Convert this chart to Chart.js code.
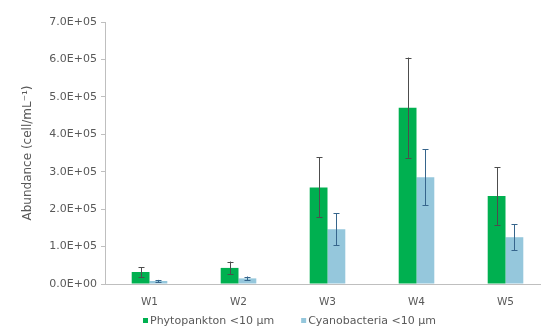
<!DOCTYPE html>
<html>
<head>
<meta charset="utf-8">
<script src="https://cdn.jsdelivr.net/npm/chart.js"></script>
<style>
  html, body { margin: 0; padding: 0; background: #fff; overflow: hidden; }
  #wrap { width: 552px; height: 333px; }
</style>
</head>
<body>
<div id="wrap"><canvas id="abundanceChart"></canvas></div>
<script>
// sites and abundances (cell/mL), mean and standard deviation
const sites = ['W1', 'W2', 'W3', 'W4', 'W5'];
const phytoMean = [32000, 43000, 258000, 471000, 235000];
const phytoErr = [13000, 17000, 80000, 134000, 77000];
const cyanoMean = [8000, 15000, 146000, 285000, 125000];
const cyanoErr = [3000, 5000, 43000, 75000, 35000];
const yTicks = [0, 100000, 200000, 300000, 400000, 500000, 600000, 700000];

const FONT = 'DejaVu Sans, Verdana, sans-serif';
const TEXT = '#595959';

// 7.0E+05 style labels
function sciLabel(v) {
  const [m, e] = Number(v).toExponential(1).split('e');
  const n = parseInt(e, 10);
  return m + 'E' + (n < 0 ? '-' : '+') + String(Math.abs(n)).padStart(2, '0');
}

const errorBars = {
  id: 'errorBars',
  afterDatasetsDraw(chart) {
    const ctx = chart.ctx;
    const y = chart.scales.y;
    chart.data.datasets.forEach((ds, i) => {
      const meta = chart.getDatasetMeta(i);
      ctx.save();
      ctx.strokeStyle = ds.errColor;
      ctx.lineWidth = 1;
      meta.data.forEach((bar, j) => {
        const v = ds.data[j], e = ds.err[j];
        const top = y.getPixelForValue(v + e);
        const bot = y.getPixelForValue(Math.max(0, v - e));
        const x = Math.round(bar.x) + 0.5;
        ctx.beginPath();
        ctx.moveTo(x, top); ctx.lineTo(x, bot);
        ctx.moveTo(x - 3, Math.round(top) + 0.5); ctx.lineTo(x + 3, Math.round(top) + 0.5);
        ctx.moveTo(x - 3, Math.round(bot) + 0.5); ctx.lineTo(x + 3, Math.round(bot) + 0.5);
        ctx.stroke();
      });
      ctx.restore();
    });
  }
};

// legend under the axis labels
const bottomLegend = {
  id: 'bottomLegend',
  afterDraw(chart) {
    const ctx = chart.ctx;
    let x = chart.chartArea.left + 38;
    const y = 321;
    ctx.save();
    ctx.font = '11px ' + FONT;
    ctx.textBaseline = 'middle';
    chart.data.datasets.forEach((ds) => {
      ctx.fillStyle = ds.backgroundColor;
      ctx.fillRect(x, y - 3, 5, 5);
      ctx.fillStyle = TEXT;
      ctx.fillText(ds.label, x + 7, y);
      x += 7 + ctx.measureText(ds.label).width + 27;
    });
    ctx.restore();
  }
};

new Chart(document.getElementById('abundanceChart'), {
  type: 'bar',
  data: {
    labels: sites,
    datasets: [
      {
        label: 'Phytopankton <10 µm',
        data: phytoMean,
        err: phytoErr,
        backgroundColor: '#00b050',
        errColor: '#4d4d4d'
      },
      {
        label: 'Cyanobacteria <10 µm',
        data: cyanoMean,
        err: cyanoErr,
        backgroundColor: '#95c7dc',
        errColor: '#36658c'
      }
    ]
  },
  options: {
    responsive: true,
    maintainAspectRatio: false,
    animation: false,
    layout: { padding: { top: 22, right: 2, left: 0, bottom: 0 } },
    datasets: {
      bar: { categoryPercentage: 0.4, barPercentage: 1.0 }
    },
    plugins: {
      legend: { display: false },
      tooltip: { enabled: false }
    },
    scales: {
      x: {
        grid: { display: false },
        border: { color: '#bfbfbf' },
        ticks: { color: TEXT, font: { family: FONT, size: 10.5 }, padding: 4 },
        afterFit(scale) { scale.height = 49; }
      },
      y: {
        min: 0,
        max: 700000,
        afterBuildTicks(scale) { scale.ticks = yTicks.map(v => ({ value: v })); },
        grid: { drawOnChartArea: false, tickLength: 4, color: '#bfbfbf' },
        border: { color: '#bfbfbf' },
        ticks: {
          color: TEXT,
          font: { family: FONT, size: 11 },
          padding: 4,
          callback: (v) => sciLabel(v)
        },
        title: {
          display: true,
          text: 'Abundance (cell/mL⁻¹)',
          color: TEXT,
          font: { family: FONT, size: 12 },
          padding: { top: 21, bottom: 0 }
        },
        afterFit(scale) { scale.width = 105; }
      }
    }
  },
  plugins: [errorBars, bottomLegend]
});
</script>
</body>
</html>
